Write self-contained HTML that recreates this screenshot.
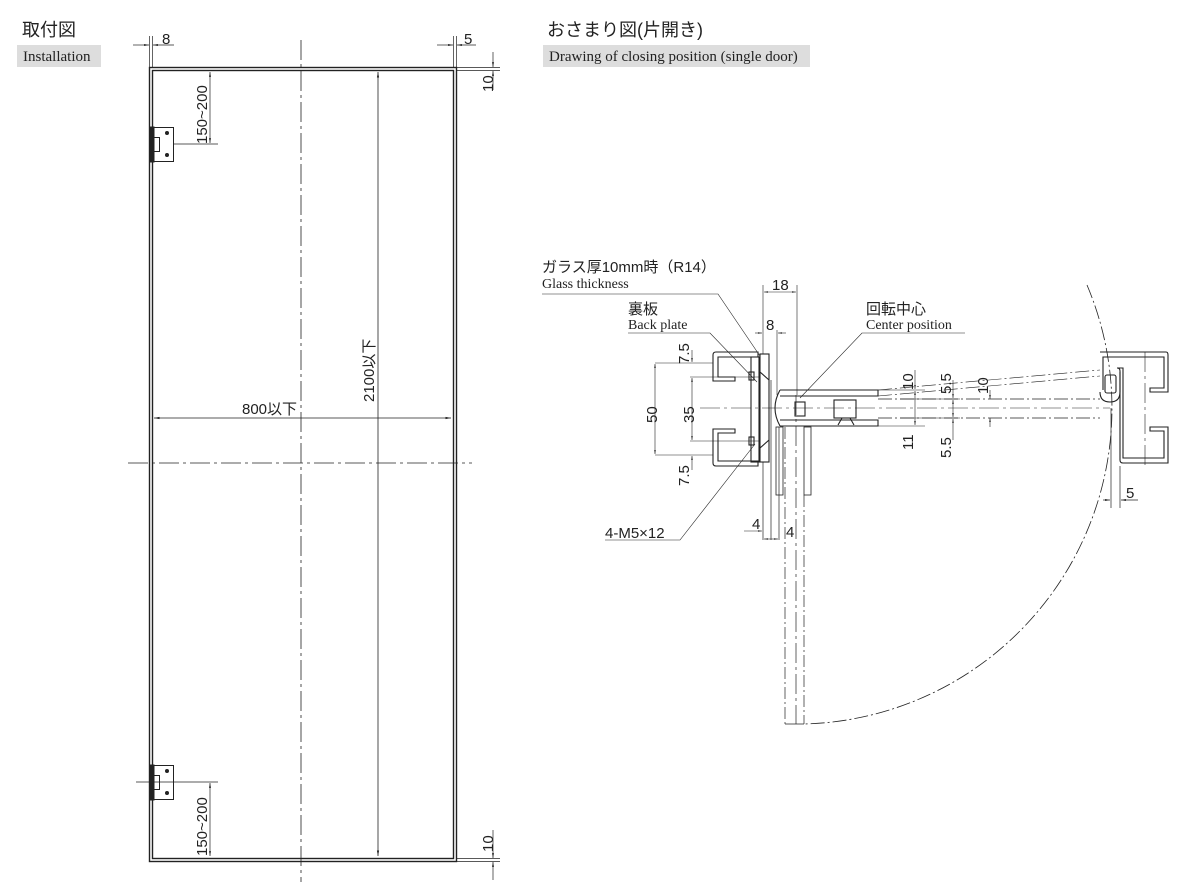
<!DOCTYPE html>
<html><head><meta charset="utf-8"><style>
body{margin:0;background:#fff;}
svg{display:block;font-family:"Liberation Sans","Noto Sans CJK JP",sans-serif;}
.s{font-family:"Liberation Serif",serif;}
</style></head><body>
<svg width="1200" height="895" viewBox="0 0 1200 895" xmlns="http://www.w3.org/2000/svg">
<defs>
<marker id="a" viewBox="0 0 10 10" refX="10" refY="5" markerWidth="7" markerHeight="7" orient="auto-start-reverse"><path d="M0,3 L10,5 L0,7z" fill="#222"/></marker>
</defs>
<g fill="#222">
<text x="22" y="36" font-size="18">取付図</text>
<rect x="17" y="45" width="84" height="22" fill="#ddd"/>
<text x="23" y="61" font-size="15" class="s">Installation</text>
<text x="547" y="36" font-size="18">おさまり図(片開き)</text>
<rect x="543" y="45" width="267" height="22" fill="#ddd"/>
<text x="549" y="61" font-size="15" class="s">Drawing of closing position (single door)</text>
</g>
<!-- Left installation -->
<g fill="none" stroke="#222" stroke-width="1">
<rect x="149.5" y="67.5" width="307" height="794" stroke-width="1.4"/>
<rect x="152.5" y="70.5" width="301" height="788" stroke-width="1.4"/>
<line x1="301" y1="40" x2="301" y2="882" stroke-dasharray="20,4,3,4" stroke-width="0.8"/>
<line x1="128" y1="463" x2="472" y2="463" stroke-dasharray="20,4,3,4" stroke-width="0.8"/>
<line x1="378" y1="72" x2="378" y2="856" marker-start="url(#a)" marker-end="url(#a)" stroke-width="0.8"/>
<line x1="154" y1="418" x2="451" y2="418" marker-start="url(#a)" marker-end="url(#a)" stroke-width="0.8"/>
<line x1="149.5" y1="36" x2="149.5" y2="67" stroke-width="0.7"/>
<line x1="152.5" y1="36" x2="152.5" y2="67" stroke-width="0.7"/>
<line x1="133" y1="45" x2="149" y2="45" marker-end="url(#a)" stroke-width="0.7"/>
<line x1="174" y1="45" x2="153" y2="45" marker-end="url(#a)" stroke-width="0.7"/>
<line x1="453.5" y1="36" x2="453.5" y2="67" stroke-width="0.7"/>
<line x1="456.5" y1="36" x2="456.5" y2="67" stroke-width="0.7"/>
<line x1="437" y1="45" x2="453" y2="45" marker-end="url(#a)" stroke-width="0.7"/>
<line x1="476" y1="45" x2="457" y2="45" marker-end="url(#a)" stroke-width="0.7"/>
<line x1="456" y1="67.5" x2="500" y2="67.5" stroke-width="0.7"/>
<line x1="456" y1="70.5" x2="500" y2="70.5" stroke-width="0.7"/>
<line x1="493" y1="52" x2="493" y2="67" marker-end="url(#a)" stroke-width="0.7"/>
<line x1="493" y1="90" x2="493" y2="71" marker-end="url(#a)" stroke-width="0.7"/>
<line x1="456" y1="858.5" x2="500" y2="858.5" stroke-width="0.7"/>
<line x1="456" y1="861.5" x2="500" y2="861.5" stroke-width="0.7"/>
<line x1="493" y1="830" x2="493" y2="858" marker-end="url(#a)" stroke-width="0.7"/>
<line x1="493" y1="880" x2="493" y2="862" marker-end="url(#a)" stroke-width="0.7"/>
<rect x="150.5" y="127.5" width="23" height="34" fill="#fff"/>
<rect x="150" y="127" width="4" height="35" fill="#222"/>
<rect x="153.5" y="137.5" width="6" height="14"/>
<rect x="150.5" y="765.5" width="23" height="34" fill="#fff"/>
<rect x="150" y="765" width="4" height="35" fill="#222"/>
<rect x="153.5" y="775.5" width="6" height="14"/>
<line x1="174" y1="144" x2="218" y2="144" stroke-width="0.7"/>
<line x1="210" y1="72" x2="210" y2="143" marker-start="url(#a)" marker-end="url(#a)" stroke-width="0.7"/>
<line x1="136" y1="782" x2="218" y2="782" stroke-width="0.7"/>
<line x1="210" y1="783" x2="210" y2="856" marker-start="url(#a)" marker-end="url(#a)" stroke-width="0.7"/>
</g>
<g fill="#222">
<circle cx="167" cy="133" r="2"/><circle cx="167" cy="155" r="2"/>
<circle cx="167" cy="771" r="2"/><circle cx="167" cy="793" r="2"/>
</g>
<g fill="#222" font-size="15">
<text x="162" y="44">8</text>
<text x="464" y="44">5</text>
<text transform="translate(493,92) rotate(-90)">10</text>
<text transform="translate(493,852) rotate(-90)">10</text>
<text transform="translate(207,144) rotate(-90)">150~200</text>
<text transform="translate(207,856) rotate(-90)">150~200</text>
<text transform="translate(374,402) rotate(-90)">2100以下</text>
<text x="242" y="414">800以下</text>
</g>
<!-- Right detail -->
<g fill="none" stroke="#222" stroke-width="1.1">
<path d="M758,352 H716 Q713,352 713,355 V381 H735 V377 H718 V357 H758 Z"/>
<path d="M758,466 H716 Q713,466 713,463 V429 H735 V433 H718 V461 H758 Z"/>
<rect x="751" y="357" width="8" height="105"/>
<rect x="760" y="354" width="9" height="108"/>
<path d="M769,380 L760,372 M769,440 L760,448"/>
<rect x="749" y="372" width="5" height="8"/><rect x="749" y="437" width="5" height="8"/>
<path d="M780,390 H878 V396 H780 M780,420 H878 V426 H780"/>
<path d="M780,390 Q770,408 780,426"/>
<rect x="795" y="402" width="10" height="14"/>
<rect x="834" y="400" width="22" height="18"/>
<path d="M838,425 L842,418 H850 L854,425"/>
<line x1="771" y1="380" x2="771" y2="540" stroke-width="0.7"/>
<line x1="763" y1="462" x2="763" y2="540" stroke-width="0.7"/>
<line x1="779" y1="427" x2="779" y2="540" stroke-width="0.7"/>
<rect x="776" y="427" width="7" height="68" stroke-width="0.8"/>
<rect x="804" y="427" width="7" height="68" stroke-width="0.8"/>
<line x1="785" y1="427" x2="785" y2="724" stroke-dasharray="12,3,2,3" stroke-width="0.7"/>
<line x1="796" y1="395" x2="796" y2="724" stroke-dasharray="20,4,3,4" stroke-width="0.7"/>
<line x1="804" y1="495" x2="804" y2="724" stroke-dasharray="12,3,2,3" stroke-width="0.7"/>
<line x1="785" y1="724" x2="804" y2="724" stroke-width="0.7"/>
<path d="M1087,285 A316,316 0 0 1 804,724" stroke-dasharray="14,3,2,3" stroke-width="0.8"/>
<line x1="878" y1="399" x2="1100" y2="399" stroke-dasharray="14,3,2,3" stroke-width="0.7"/>
<line x1="878" y1="418" x2="1100" y2="418" stroke-dasharray="14,3,2,3" stroke-width="0.7"/>
<line x1="700" y1="408" x2="1110" y2="408" stroke-dasharray="20,4,3,4" stroke-width="0.6"/>
<line x1="878" y1="396" x2="1100" y2="376" stroke-dasharray="14,3,2,3" stroke-width="0.6"/>
<line x1="878" y1="390" x2="1100" y2="370" stroke-dasharray="14,3,2,3" stroke-width="0.6"/>
<path d="M1100,352 H1166 Q1168,352 1168,355 V392 H1150 V388 H1164 V357 H1103 V390 M1123,368 V458 H1164 V431 H1150 V427 H1168 V463 H1123 Q1120,463 1120,460 V371 Q1120,368 1117,368 Z"/>
<path d="M1100,392 Q1100,402 1110,402 Q1120,402 1120,392 V372"/>
<rect x="1105" y="375" width="11" height="18" rx="2"/>
<line x1="1145" y1="352" x2="1145" y2="466" stroke-dasharray="20,4,3,4" stroke-width="0.6"/>
<line x1="1111" y1="408" x2="1111" y2="508" stroke-width="0.7"/>
<line x1="1120" y1="466" x2="1120" y2="508" stroke-width="0.7"/>
<line x1="1103" y1="500" x2="1110" y2="500" marker-end="url(#a)" stroke-width="0.7"/>
<line x1="1138" y1="500" x2="1121" y2="500" marker-end="url(#a)" stroke-width="0.7"/>
<line x1="655" y1="363" x2="713" y2="363" stroke-width="0.6"/>
<line x1="655" y1="455" x2="713" y2="455" stroke-width="0.6"/>
<line x1="690" y1="377" x2="760" y2="377" stroke-width="0.6"/>
<line x1="690" y1="441" x2="760" y2="441" stroke-width="0.6"/>
<line x1="655" y1="364" x2="655" y2="454" marker-start="url(#a)" marker-end="url(#a)" stroke-width="0.6"/>
<line x1="692" y1="378" x2="692" y2="440" marker-start="url(#a)" marker-end="url(#a)" stroke-width="0.6"/>
<line x1="692" y1="350" x2="692" y2="362" marker-end="url(#a)" stroke-width="0.6"/>
<line x1="692" y1="470" x2="692" y2="456" marker-end="url(#a)" stroke-width="0.6"/>
<line x1="763" y1="285" x2="763" y2="354" stroke-width="0.6"/>
<line x1="797" y1="285" x2="797" y2="395" stroke-width="0.6"/>
<line x1="764" y1="292" x2="796" y2="292" marker-start="url(#a)" marker-end="url(#a)" stroke-width="0.6"/>
<line x1="777" y1="330" x2="777" y2="395" stroke-width="0.6"/>
<line x1="755" y1="333" x2="762" y2="333" marker-end="url(#a)" stroke-width="0.6"/>
<line x1="786" y1="333" x2="778" y2="333" marker-end="url(#a)" stroke-width="0.6"/>
<line x1="744" y1="531" x2="762" y2="531" marker-end="url(#a)" stroke-width="0.6"/>
<line x1="764" y1="539" x2="778" y2="539" marker-start="url(#a)" marker-end="url(#a)" stroke-width="0.6"/>
<line x1="878" y1="390" x2="925" y2="390" stroke-width="0.6"/>
<line x1="878" y1="426" x2="925" y2="426" stroke-width="0.6"/>
<line x1="900" y1="399" x2="960" y2="399" stroke-width="0.6"/>
<line x1="900" y1="418" x2="960" y2="418" stroke-width="0.6"/>
<line x1="915" y1="370" x2="915" y2="389" marker-end="url(#a)" stroke-width="0.6"/>
<line x1="915" y1="391" x2="915" y2="425" marker-start="url(#a)" marker-end="url(#a)" stroke-width="0.6"/>
<line x1="953" y1="380" x2="953" y2="398" marker-end="url(#a)" stroke-width="0.6"/>
<line x1="953" y1="400" x2="953" y2="417" marker-start="url(#a)" marker-end="url(#a)" stroke-width="0.6"/>
<line x1="953" y1="440" x2="953" y2="419" marker-end="url(#a)" stroke-width="0.6"/>
<line x1="990" y1="390" x2="990" y2="399" marker-end="url(#a)" stroke-width="0.6"/>
<line x1="990" y1="427" x2="990" y2="418" marker-end="url(#a)" stroke-width="0.6"/>
<path d="M542,294 H718 L760,356" stroke-width="0.6"/>
<path d="M628,333 H710 L757,382" stroke-width="0.6"/>
<path d="M965,333 H862 L800,398" stroke-width="0.6"/>
<path d="M605,540 H680 L755,444" stroke-width="0.6"/>
</g>
<g fill="#222" font-size="15">
<text x="542" y="272">ガラス厚10mm時（R14）</text>
<text x="542" y="288" class="s" font-size="14">Glass thickness</text>
<text x="628" y="314">裏板</text>
<text x="628" y="329" class="s" font-size="14">Back plate</text>
<text x="866" y="314">回転中心</text>
<text x="866" y="329" class="s" font-size="14">Center position</text>
<text x="772" y="290">18</text>
<text x="766" y="330">8</text>
<text transform="translate(657,423) rotate(-90)">50</text>
<text transform="translate(694,423) rotate(-90)">35</text>
<text transform="translate(689,364) rotate(-90)">7.5</text>
<text transform="translate(689,486) rotate(-90)">7.5</text>
<text transform="translate(913,390) rotate(-90)">10</text>
<text transform="translate(913,450) rotate(-90)">11</text>
<text transform="translate(951,394) rotate(-90)">5.5</text>
<text transform="translate(951,458) rotate(-90)">5.5</text>
<text transform="translate(988,394) rotate(-90)">10</text>
<text x="752" y="529">4</text>
<text x="786" y="537">4</text>
<text x="605" y="538">4-M5×12</text>
<text x="1126" y="498">5</text>
</g>
</svg>
</body></html>
